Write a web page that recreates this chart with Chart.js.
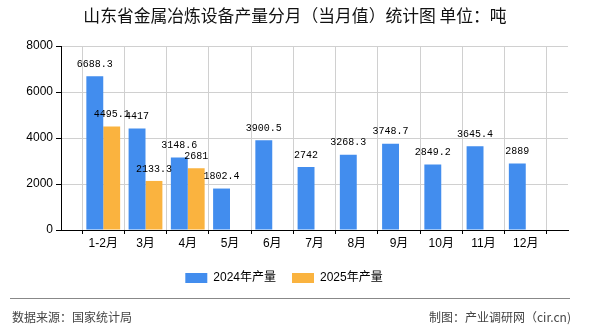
<!DOCTYPE html>
<html>
<head>
<meta charset="utf-8">
<script src="https://cdn.jsdelivr.net/npm/chart.js@4"></script>
<style>
  html, body { margin: 0; padding: 0; background: #fff; }
  #wrap { width: 590px; height: 330px; position: relative; }
</style>
</head>
<body>
<div id="wrap"><canvas id="chart"></canvas></div>
<script>
// 数据
const months = ["1-2月", "3月", "4月", "5月", "6月", "7月", "8月", "9月", "10月", "11月", "12月"];
const prod2024 = [6688.3, 4417, 3148.6, 1802.4, 3900.5, 2742, 3268.3, 3748.7, 2849.2, 3645.4, 2889];
const prod2025 = [4495.1, 2133.3, 2681];
const yTicks = [0, 2000, 4000, 6000, 8000];

const titleText = "山东省金属冶炼设备产量分月（当月值）统计图 单位：吨";
const sourceText = "数据来源：国家统计局";
const makerText = "制图：产业调研网（cir.cn)";

// 两端留空位，柱子落在网格线上
const labels = [""].concat(months, [""]);
function pad(arr) {
    const out = [null];
    months.forEach((m, i) => out.push(i < arr.length ? arr[i] : null));
    out.push(null);
    return out;
}

const BLUE = "#428DEE";
const ORANGE = "#FAB33F";

// 标题、页脚、数值标签
const extras = {
    id: "extras",
    afterDatasetsDraw(chart) {
        const ctx = chart.ctx;
        ctx.save();
        ctx.font = "10px 'Liberation Mono', 'DejaVu Sans Mono', monospace";
        ctx.fillStyle = "#000";
        ctx.textAlign = "center";
        ctx.textBaseline = "bottom";
        chart.data.datasets.forEach((ds, di) => {
            const meta = chart.getDatasetMeta(di);
            meta.data.forEach((bar, i) => {
                const v = ds.data[i];
                if (v === null || v === undefined) return;
                ctx.fillText(String(v), bar.x, bar.y - 7);
            });
        });
        ctx.restore();
    },
    afterDraw(chart) {
        const ctx = chart.ctx;
        ctx.save();
        ctx.fillStyle = "#111";
        ctx.font = "16.8px 'Noto Sans CJK SC', sans-serif";
        ctx.textAlign = "center";
        ctx.textBaseline = "middle";
        ctx.fillText(titleText, 295, 16);

        ctx.strokeStyle = "#888";
        ctx.lineWidth = 1;
        ctx.beginPath();
        ctx.moveTo(10, 298.5);
        ctx.lineTo(570, 298.5);
        ctx.stroke();

        ctx.fillStyle = "#444";
        ctx.font = "12px 'Noto Sans CJK SC', sans-serif";
        ctx.textAlign = "left";
        ctx.fillText(sourceText, 12, 317);
        ctx.textAlign = "right";
        ctx.fillText(makerText, 571, 317);
        ctx.restore();
    }
};

new Chart(document.getElementById("chart"), {
    type: "bar",
    data: {
        labels: labels,
        datasets: [
            { label: "2024年产量", data: pad(prod2024), backgroundColor: BLUE },
            { label: "2025年产量", data: pad(prod2025), backgroundColor: ORANGE }
        ]
    },
    options: {
        responsive: true,
        maintainAspectRatio: false,
        animation: false,
        devicePixelRatio: 1,
        layout: { padding: { top: 46, left: 0, right: 22, bottom: 36 } },
        datasets: { bar: { categoryPercentage: 0.8, barPercentage: 1 } },
        scales: {
            x: {
                offset: false,
                grid: { color: "#d0d0d0", tickColor: "#000", tickLength: 4 },
                border: { color: "#000" },
                ticks: {
                    color: "#000",
                    font: { size: 12, family: "'Liberation Sans', 'Noto Sans CJK SC', sans-serif" },
                    maxRotation: 0,
                    autoSkip: false,
                    padding: 2
                },
                afterFit(scale) { scale.height = 26; }
            },
            y: {
                min: 0,
                max: 8000,
                afterBuildTicks(scale) { scale.ticks = yTicks.map(v => ({ value: v })); },
                grid: { color: "#d0d0d0", tickColor: "#000", tickLength: 5 },
                border: { color: "#000" },
                ticks: {
                    color: "#000",
                    font: { size: 12, family: "'Liberation Sans', sans-serif" },
                    padding: 3,
                    callback: v => String(v)
                },
                afterFit(scale) { scale.width = 61; }
            }
        },
        plugins: {
            legend: {
                position: "bottom",
                labels: {
                    boxWidth: 22,
                    boxHeight: 10,
                    padding: 16,
                    color: "#000",
                    font: { size: 12, family: "'Liberation Sans', 'Noto Sans CJK SC', sans-serif" }
                }
            },
            title: { display: false },
            tooltip: { enabled: false }
        }
    },
    plugins: [extras]
});
</script>
</body>
</html>
